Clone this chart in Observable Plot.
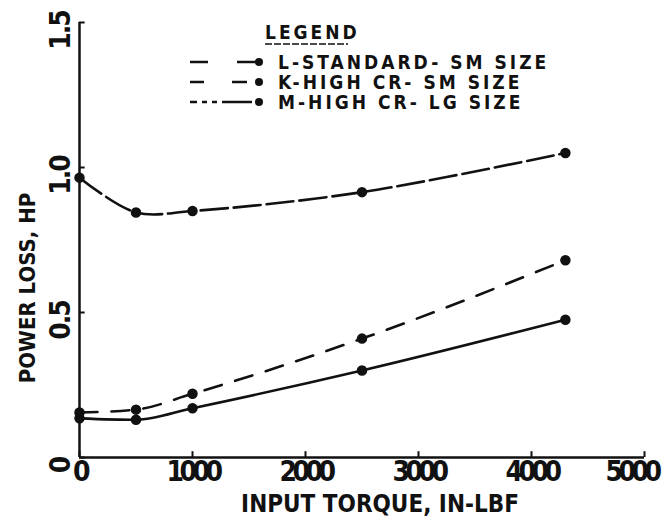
<!DOCTYPE html>
<html><head><meta charset="utf-8">
<script src="https://cdn.jsdelivr.net/npm/d3@7"></script>
<script src="https://cdn.jsdelivr.net/npm/@observablehq/plot@0.6"></script>
<style>
body{margin:0;background:#fff;}
#wrap{position:relative;width:670px;height:529px;}
#legend{position:absolute;left:0;top:0;pointer-events:none;}
svg text{font-family:"DejaVu Sans Condensed","DejaVu Sans",sans-serif;fill:#111;}
.ttlx{font-weight:bold;letter-spacing:0px;}
.ttly{font-weight:bold;letter-spacing:0px;}
.xlab{font-weight:bold;letter-spacing:-4.5px;}
.ylab{font-weight:bold;letter-spacing:-2px;}
.leg{font-weight:bold;letter-spacing:3px;font-size:19px;}
</style></head><body><div id="wrap"></div>
<script>
// ---- data ----
const torque = [0, 500, 1000, 2500, 4300];
const lossL = [0.135, 0.13, 0.17, 0.30, 0.475];
const lossK = [0.155, 0.165, 0.22, 0.41, 0.68];
const lossM = [0.965, 0.845, 0.85, 0.915, 1.05];
const seriesNames = ["L-STANDARD- SM SIZE", "K-HIGH CR- SM SIZE", "M-HIGH CR- LG SIZE"];
const xTicks = [0, 1000, 2000, 3000, 4000, 5000];
const xTickLabels = ["0", "1000", "2000", "3000", "4000", "5000"];
const yTicks = [0, 0.5, 1.0, 1.5];
const yTickLabels = ["0", "0.5", "1.0", "1.5"];
const xTitle = "INPUT TORQUE, IN-LBF";
const yTitle = "POWER LOSS, HP";
const legendTitle = "LEGEND";

const seriesValues = [lossL, lossK, lossM];
const dashes = [null, "18,14", "27,6"];
const curves = ["monotone-x", "monotone-x", "catmull-rom"];
const rows = seriesNames.flatMap((s, i) => torque.map((t, j) => ({series: s, torque: t, loss: seriesValues[i][j]})));

const lineMarks = seriesNames.map((s, i) =>
  Plot.line(rows.filter(r => r.series === s), {
    x: "torque", y: "loss", curve: curves[i],
    stroke: "#111", strokeWidth: 2.6, strokeDasharray: dashes[i]
  }));

const lastX = xTicks.length - 1;
const chart = Plot.plot({
  width: 670, height: 529,
  marginLeft: 79, marginRight: 26, marginTop: 22, marginBottom: 72,
  x: {domain: [0, 5000], axis: null},
  y: {domain: [0, 1.5], axis: null},
  marks: [
    Plot.ruleX([0], {stroke: "#111", strokeWidth: 2.5}),
    Plot.ruleY([0], {stroke: "#111", strokeWidth: 2.5}),
    Plot.ruleX(xTicks, {x: d => d, y1: 0, y2: 0.02, stroke: "#111", strokeWidth: 2}),
    Plot.ruleY(yTicks, {y: d => d, x1: 0, x2: 50, stroke: "#111", strokeWidth: 2}),
    ...lineMarks,
    Plot.dot(rows, {x: "torque", y: "loss", r: 4.5, fill: "#111", stroke: "#111"}),
    Plot.text(xTicks.slice(0, lastX), {x: d => d, text: (d, i) => xTickLabels[i], frameAnchor: "bottom", lineAnchor: "middle", textAnchor: "middle", dy: 15, fontSize: 28, className: "xlab"}),
    Plot.text(xTicks.slice(lastX), {x: d => d, text: () => xTickLabels[lastX], frameAnchor: "bottom", lineAnchor: "middle", textAnchor: "middle", dx: -13, dy: 15, fontSize: 28, className: "xlab"}),
    Plot.text(yTicks, {y: d => d, text: (d, i) => yTickLabels[i], frameAnchor: "left", textAnchor: "middle", lineAnchor: "middle", dx: -18, dy: 8, rotate: -90, fontSize: 28, className: "ylab"}),
    Plot.text([xTitle], {frameAnchor: "bottom", textAnchor: "middle", lineAnchor: "middle", dx: 18, dy: 47, fontSize: 24, className: "ttlx"}),
    Plot.text([yTitle], {frameAnchor: "left", textAnchor: "middle", lineAnchor: "middle", dx: -52, dy: 48, rotate: -90, fontSize: 22, className: "ttly"})
  ]
});
document.getElementById("wrap").appendChild(chart);

// ---- legend overlay ----
const leg = d3.select("#wrap").append("svg").attr("id", "legend").attr("width", 670).attr("height", 529);
leg.append("text").attr("class", "leg").attr("x", 265).attr("y", 39).text(legendTitle);
leg.append("line").attr("x1", 265).attr("x2", 348).attr("y1", 44).attr("y2", 44)
  .attr("stroke", "#111").attr("stroke-width", 1.6).attr("stroke-dasharray", "7,2");
const legDash = ["18,29,22", "14,28,15", "7,5,5,5,5,5,30"];
const rowY = [62, 82, 102];
seriesNames.forEach((s, i) => {
  const g = leg.append("g").attr("transform", `translate(0,${rowY[i]})`);
  g.append("line").attr("x1", 190).attr("x2", 256).attr("y1", 0).attr("y2", 0)
    .attr("stroke", "#111").attr("stroke-width", 2.4).attr("stroke-dasharray", legDash[i]);
  g.append("circle").attr("cx", 259).attr("cy", 0).attr("r", 4).attr("fill", "#111");
  g.append("text").attr("class", "leg").attr("x", 278).attr("y", 7).text(s);
});
</script></body></html>
